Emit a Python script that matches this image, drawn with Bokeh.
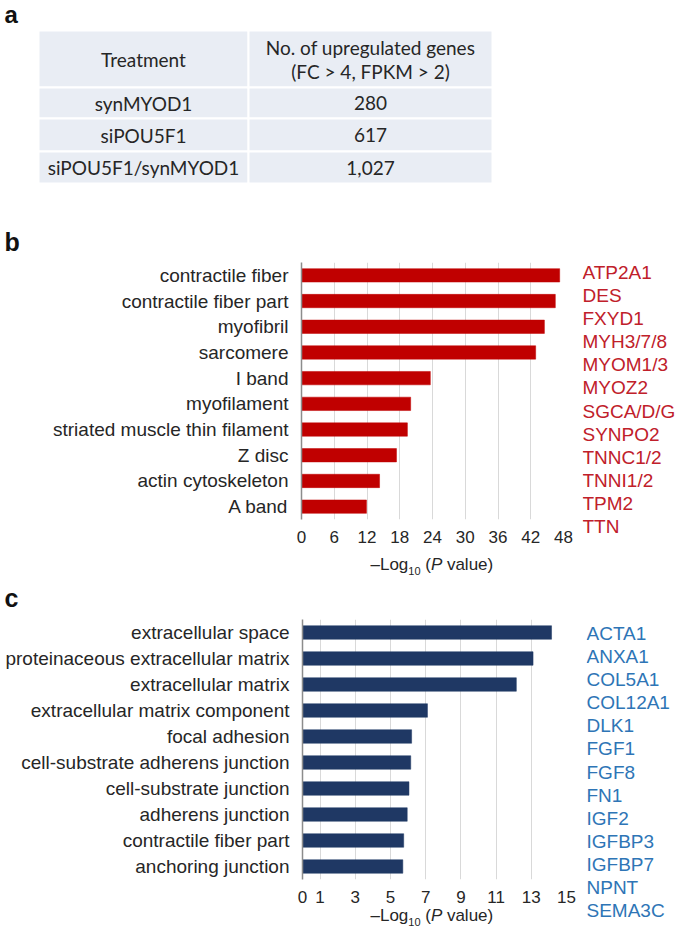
from bokeh.plotting import figure
from bokeh.layouts import column, row
from bokeh.models import FactorRange, Range1d, FixedTicker
from bokeh.core.properties import value
from bokeh.embed import file_html
from bokeh.resources import INLINE

# ---------------- data ----------------
table_header = ["Treatment", "No. of upregulated genes", "(FC > 4, FPKM > 2)"]
treatments = ["synMYOD1", "siPOU5F1", "siPOU5F1/synMYOD1"]
n_genes = ["280", "617", "1,027"]

b_terms = ["contractile fiber", "contractile fiber part", "myofibril", "sarcomere",
           "I band", "myofilament", "striated muscle thin filament", "Z disc",
           "actin cytoskeleton", "A band"]
b_values = [47.3, 46.5, 44.5, 42.9, 23.6, 20.0, 19.4, 17.4, 14.3, 11.9]
b_ticks = [0, 6, 12, 18, 24, 30, 36, 42, 48]
b_genes = ["ATP2A1", "DES", "FXYD1", "MYH3/7/8", "MYOM1/3", "MYOZ2", "SGCA/D/G",
           "SYNPO2", "TNNC1/2", "TNNI1/2", "TPM2", "TTN"]

c_terms = ["extracellular space", "proteinaceous extracellular matrix",
           "extracellular matrix", "extracellular matrix component", "focal adhesion",
           "cell-substrate adherens junction", "cell-substrate junction",
           "adherens junction", "contractile fiber part", "anchoring junction"]
c_values = [14.15, 13.1, 12.15, 7.1, 6.2, 6.15, 6.05, 5.95, 5.75, 5.7]
c_ticks = [0, 1, 3, 5, 7, 9, 11, 13, 15]
c_genes = ["ACTA1", "ANXA1", "COL5A1", "COL12A1", "DLK1", "FGF1", "FGF8", "FN1",
           "IGF2", "IGFBP3", "IGFBP7", "NPNT", "SEMA3C"]

# ---------------- styles ----------------
FONT = "Liberation Sans"
TFONT = "Lato"
TXT = "#262626"
W = 685
LEFT_W = 578
GENE_W = W - LEFT_W


def canvas(width, height, y_top, x_left=0, border_left=0, border_right=0):
    """Blank figure whose data coordinates are page pixels."""
    p = figure(width=width, height=height,
               x_range=Range1d(x_left + border_left, x_left + width - border_right),
               y_range=Range1d(y_top + height, y_top),
               x_axis_type=None, y_axis_type=None, toolbar_location=None,
               output_backend="svg", min_border_left=border_left,
               min_border_right=border_right, min_border_top=0, min_border_bottom=0,
               outline_line_color=None)
    return p


def letter(p, text, x, y, size="25px"):
    p.text(x=[x], y=[y], text=[text], text_font=value(FONT), text_font_style="bold",
           text_font_size=size, text_color="#111111", text_baseline="middle")


def axis_title(p, x0, base):
    # pieces of "–Log10 (P value)" placed along one baseline
    parts = [("–Log", 0, base - 5.9, "17px", "normal"),
             ("10", 37.8, base + 4 - 3.8, "11px", "normal"),
             ("(", 37.8 + 12.2 + 4.7, base - 5.9, "17px", "normal"),
             ("P", 37.8 + 12.2 + 4.7 + 5.7, base - 5.9, "17px", "italic"),
             ("value)", 37.8 + 12.2 + 4.7 + 5.7 + 11.3 + 4.7, base - 5.9, "17px", "normal")]
    for t, dx, y, fs, st in parts:
        p.text(x=[x0 + dx], y=[y], text=[t], text_font=value(FONT),
               text_font_size=fs, text_font_style=st, text_color=TXT,
               text_baseline="middle")


# ---------------- panel a: table (+ letters a, b) ----------------
tab = canvas(W, 255, 0)
col_edges = [38, 248, 492]
row_edges = [30, 87, 118, 151, 183]
lefts, rights, tops, bottoms = [], [], [], []
for i in range(len(row_edges) - 1):
    for j in range(len(col_edges) - 1):
        lefts.append(col_edges[j]); rights.append(col_edges[j + 1])
        tops.append(row_edges[i]); bottoms.append(row_edges[i + 1])
tab.quad(left=lefts, right=rights, top=tops, bottom=bottoms,
         fill_color="#e9edf4", line_color="white", line_width=2)
c0 = (col_edges[0] + col_edges[1]) / 2
c1 = (col_edges[1] + col_edges[2]) / 2
hx = [c0, c1, c1]
hy = [(row_edges[0] + row_edges[1]) / 2, 47, 71]
TS = "19px"
tab.text(x=hx, y=hy, text=table_header, text_align="center", text_baseline="middle",
         text_font=value(TFONT), text_font_size=TS, text_color=TXT)
ry = [(row_edges[k + 1] + row_edges[k + 2]) / 2 for k in range(len(treatments))]
tab.text(x=[c0] * len(treatments), y=ry, text=treatments, text_align="center",
         text_baseline="middle", text_font=value(TFONT), text_font_size=TS,
         text_color=TXT)
tab.text(x=[c1] * len(n_genes), y=ry, text=n_genes, text_align="center",
         text_baseline="middle", text_font=value(TFONT), text_font_size=TS,
         text_color=TXT)
letter(tab, "a", 4, 13.7, "24px")
letter(tab, "b", 4, 241.5)


# ---------------- bar panels ----------------
def bar_panel(terms, vals, ticks, xmax, color, height, top, bottom, left, right):
    p = figure(width=LEFT_W, height=height, y_range=FactorRange(factors=terms[::-1]),
               x_range=Range1d(0, xmax), toolbar_location=None, output_backend="svg",
               min_border_left=left, min_border_right=right, min_border_top=top,
               min_border_bottom=bottom, outline_line_color=None)
    p.hbar(y=terms, left=0, right=vals, height=0.52, fill_color=color,
           line_color=color, line_width=0.5)
    p.ygrid.visible = False
    p.xgrid.grid_line_color = "#d9d9d9"
    p.xgrid.grid_line_width = 1
    p.xaxis.ticker = FixedTicker(ticks=ticks)
    p.xaxis.axis_line_color = None
    p.xaxis.major_tick_line_color = None
    p.xaxis.minor_tick_line_color = None
    p.xaxis.major_label_text_font = FONT
    p.xaxis.major_label_text_font_size = "17px"
    p.xaxis.major_label_text_color = TXT
    p.xaxis.major_label_standoff = 5
    p.yaxis.axis_line_color = "#8c8c8c"
    p.yaxis.axis_line_width = 1.5
    p.yaxis.major_tick_line_color = None
    p.yaxis.minor_tick_line_color = None
    p.yaxis.major_label_text_font = FONT
    p.yaxis.major_label_text_font_size = "19px"
    p.yaxis.major_label_text_color = TXT
    p.yaxis.major_label_standoff = 7
    return p


def gene_panel(genes, color, height, top, bottom, left):
    g = figure(width=GENE_W, height=height, x_range=Range1d(0, 1),
               y_range=FactorRange(factors=genes[::-1]), x_axis_type=None,
               y_axis_type=None, toolbar_location=None, output_backend="svg",
               min_border_left=left, min_border_right=0, min_border_top=top,
               min_border_bottom=bottom, outline_line_color=None)
    g.text(x=[0] * len(genes), y=genes, text=genes, text_align="left",
           text_baseline="middle", text_font=value(FONT), text_font_size="19px",
           text_color=color)
    return g


# panel b: page y 255 -> 583
bfig = bar_panel(b_terms, b_values, b_ticks, 48, "#c00000", 290, 7, 23, 301, 15)
btitle = canvas(LEFT_W, 38, 545, 0, 301, 15)       # page y 545 -> 583
axis_title(btitle, 370, 570)
bgen = gene_panel(b_genes, "#c0202a", 328, 5, 45, 4)

# strip holding letter c: page y 583 -> 615
cbar = canvas(W, 32, 583)
letter(cbar, "c", 4, 597)

# panel c: page y 615 -> 934
cfig = bar_panel(c_terms, c_values, c_ticks, 15, "#1f3864", 290, 4, 26, 302, 12)
ctitle = canvas(LEFT_W, 29, 905, 0, 302, 12)       # page y 905 -> 934
axis_title(ctitle, 370, 921)
cgen = gene_panel(c_genes, "#2e75b6", 319, 6, 12, 8)

layout = column(tab,
                row(column(bfig, btitle), bgen),
                cbar,
                row(column(cfig, ctitle), cgen))
open("out.html", "w").write(file_html(layout, INLINE))
